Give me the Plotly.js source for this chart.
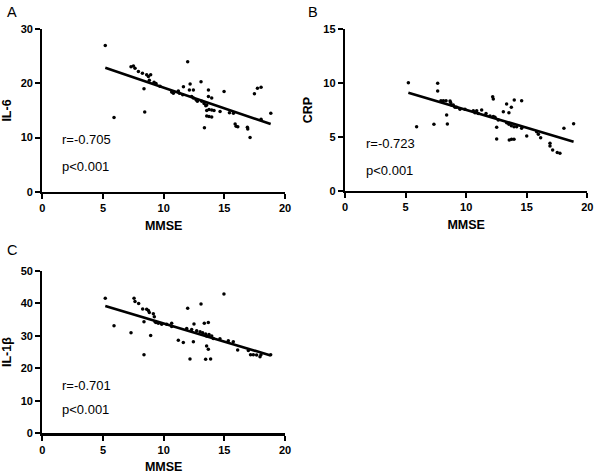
<!DOCTYPE html>
<html>
<head>
<meta charset="utf-8">
<script src="https://cdn.plot.ly/plotly-3.0.1.min.js"></script>
<style>html,body{margin:0;padding:0;background:#fff}#chart{width:600px;height:475px}</style>
</head>
<body>
<div id="chart"></div>
<script>
// Panel A: IL-6 vs MMSE
const mmseA = [5.19,5.91,7.31,7.51,7.64,7.92,8.25,8.60,8.93,8.74,8.82,8.38,8.44,9.21,9.37,9.70,10.66,10.80,11.21,11.30,11.57,11.63,11.98,12.18,12.12,12.45,12.31,12.45,12.67,12.78,13.08,13.14,13.33,13.47,13.69,13.69,13.96,13.55,13.74,13.96,14.15,13.55,13.74,13.96,13.36,13.55,14.65,14.98,15.42,15.75,15.89,15.97,16.11,16.90,16.93,17.12,17.48,17.73,18.03,18.03,18.83];
const il6 = [27.0,13.7,23.1,23.2,22.8,22.2,21.9,21.6,21.6,21.3,20.6,19.0,14.7,20.2,20.0,19.5,18.4,18.2,18.6,18.2,17.9,19.4,24.0,19.9,18.8,18.8,17.6,17.3,17.0,16.7,20.3,16.7,16.3,15.9,18.8,17.6,17.3,15.0,15.2,15.1,15.0,14.0,13.9,13.8,11.8,16.0,14.8,18.5,14.6,14.5,12.5,12.1,12.0,11.9,11.6,10.0,18.1,19.1,19.3,13.4,14.5];
const fitAx = [5.19, 18.82];
const fitAy = [22.9, 12.5];

// Panel B: CRP vs MMSE
const mmseB = [5.23,5.91,7.34,7.65,7.65,7.92,8.12,8.34,8.67,8.39,8.45,8.72,8.80,8.94,9.08,9.22,9.49,9.90,10.59,10.73,10.87,11.00,11.28,11.64,11.97,12.19,12.24,12.24,12.38,12.52,12.52,12.65,13.07,13.34,13.53,13.73,13.97,14.58,13.34,13.53,13.73,13.95,14.17,13.56,13.75,13.95,14.58,15.00,15.82,15.96,16.15,16.92,16.92,17.14,17.52,17.74,18.07,18.87];
const crp = [10.05,5.97,6.19,9.99,9.28,8.38,8.38,8.38,8.35,7.05,6.22,8.20,7.98,7.98,7.76,7.76,7.58,7.58,7.45,7.27,7.45,7.20,7.52,7.20,6.96,8.75,8.54,6.90,6.84,5.91,4.83,6.59,7.36,8.07,7.27,7.76,8.44,8.38,6.34,6.19,6.06,5.97,5.97,4.73,4.79,4.79,5.81,5.10,5.50,5.26,4.95,4.42,4.18,3.80,3.56,3.50,5.81,6.25];
const fitBx = [5.23, 18.87];
const fitBy = [9.12, 4.58];

// Panel C: IL-1β vs MMSE
const mmseC = [5.19,5.91,7.31,7.56,7.64,7.94,8.27,8.38,8.38,8.60,8.74,8.82,8.93,9.15,9.23,9.29,9.37,9.56,9.84,10.25,10.66,10.66,11.21,11.62,11.98,11.90,12.31,12.45,12.17,12.50,12.72,13.00,13.08,13.21,13.35,13.46,13.68,13.54,13.74,13.96,13.54,13.68,13.46,13.87,14.09,14.64,14.97,15.33,15.74,16.10,16.98,17.16,17.39,17.66,17.94,18.02,18.82];
const il1b = [41.6,33.1,31.0,41.6,40.6,40.0,38.3,34.4,24.2,38.2,37.8,37.2,30.1,36.8,35.9,34.4,34.1,33.9,33.6,33.6,33.9,32.9,28.7,28.0,38.5,32.3,32.0,28.2,22.9,33.7,31.6,31.3,39.8,31.0,33.9,30.6,34.1,30.0,30.4,30.0,26.9,25.9,22.8,22.9,29.2,29.1,42.9,28.5,28.2,25.7,25.5,24.2,24.2,24.1,23.6,24.2,24.2];
const fitCx = [5.19, 18.82];
const fitCy = [39.2, 24.0];

// Tick values
const xTicks = [0, 5, 10, 15, 20];
const yTicksA = [0, 10, 20, 30];
const yTicksB = [0, 5, 10, 15];
const yTicksC = [0, 10, 20, 30, 40, 50];

const panelLabels = ['A', 'B', 'C'];
const yTitles = ['IL-6', 'CRP', 'IL-1β'];
const xTitle = 'MMSE';
const rTexts = ['r=-0.705', 'r=-0.723', 'r=-0.701'];
const pTexts = ['p<0.001', 'p<0.001', 'p<0.001'];

const FONT = 'Arial, "Liberation Sans", sans-serif';
const pts = (x, y, xa, ya) => ({x, y, xaxis: xa, yaxis: ya, type: 'scatter', mode: 'markers',
  marker: {size: 3.5, color: '#000'}, hoverinfo: 'skip', cliponaxis: false});
const fit = (x, y, xa, ya) => ({x, y, xaxis: xa, yaxis: ya, type: 'scatter', mode: 'lines',
  line: {color: '#000', width: 2.6}, hoverinfo: 'skip'});

const data = [
  fit(fitAx, fitAy, 'x', 'y'), pts(mmseA, il6, 'x', 'y'),
  fit(fitBx, fitBy, 'x2', 'y2'), pts(mmseB, crp, 'x2', 'y2'),
  fit(fitCx, fitCy, 'x3', 'y3'), pts(mmseC, il1b, 'x3', 'y3')
];

const tickFont = {family: FONT, size: 11, color: '#000', weight: 700};
const common = {showgrid: false, zeroline: false, showline: true, linecolor: '#000', linewidth: 2.2,
  ticks: 'outside', ticklen: 5, tickwidth: 2, tickcolor: '#000', tickfont: tickFont,
  tickmode: 'array', automargin: false, fixedrange: true};
const bold = arr => arr.map(v => '<b>' + v + '</b>');
const xax = (dom, anchor) => Object.assign({}, common, {domain: dom, anchor, range: [0, 20],
  tickvals: xTicks, ticktext: bold(xTicks),
  title: {text: '<b>' + xTitle + '</b>', font: {family: FONT, size: 12.5, color: '#000'}, standoff: 8}});
const yax = (dom, anchor, ticks, title) => Object.assign({}, common, {domain: dom, anchor,
  range: [0, ticks[ticks.length - 1]], tickvals: ticks, ticktext: bold(ticks),
  title: {text: '<b>' + title + '</b>', font: {family: FONT, size: 12.5, color: '#000'}, standoff: 8}});

const ann = [];
const textFont = {family: FONT, size: 13, color: '#000'};
const stat = [
  {xr: 'x', yr: 'y', rx: 1.45, ry: 9.7, py: 4.6},
  {xr: 'x2', yr: 'y2', rx: 1.55, ry: 4.42, py: 1.86},
  {xr: 'x3', yr: 'y3', rx: 1.45, ry: 14.6, py: 7.2}
];
stat.forEach((s, i) => {
  ann.push({xref: s.xr, yref: s.yr, x: s.rx, y: s.ry, text: rTexts[i], showarrow: false,
    xanchor: 'left', yanchor: 'middle', font: textFont});
  ann.push({xref: s.xr, yref: s.yr, x: s.rx, y: s.py, text: pTexts[i], showarrow: false,
    xanchor: 'left', yanchor: 'middle', font: textFont});
});
const labelPos = [[5, 475 - 12], [306, 475 - 12], [5, 475 - 250]];
panelLabels.forEach((t, i) => {
  ann.push({xref: 'paper', yref: 'paper', x: labelPos[i][0] / 600, y: labelPos[i][1] / 475, text: t,
    showarrow: false, xanchor: 'left', yanchor: 'middle', font: {family: FONT, size: 14.5, color: '#000'}});
});

const layout = {
  width: 600, height: 475,
  margin: {l: 0, r: 0, t: 0, b: 0},
  paper_bgcolor: '#fff', plot_bgcolor: '#fff',
  showlegend: false,
  font: {family: FONT, color: '#000'},
  xaxis: xax([42.3 / 600, 285 / 600], 'y'),
  yaxis: yax([283.3 / 475, 445.7 / 475], 'x', yTicksA, yTitles[0]),
  xaxis2: xax([345 / 600, 587.3 / 600], 'y2'),
  yaxis2: yax([284 / 475, 445.7 / 475], 'x2', yTicksB, yTitles[1]),
  xaxis3: xax([42.3 / 600, 285 / 600], 'y3'),
  yaxis3: yax([41.7 / 475, 204 / 475], 'x3', yTicksC, yTitles[2]),
  annotations: ann
};

Plotly.newPlot('chart', data, layout, {staticPlot: true, displayModeBar: false});
</script>
</body>
</html>
